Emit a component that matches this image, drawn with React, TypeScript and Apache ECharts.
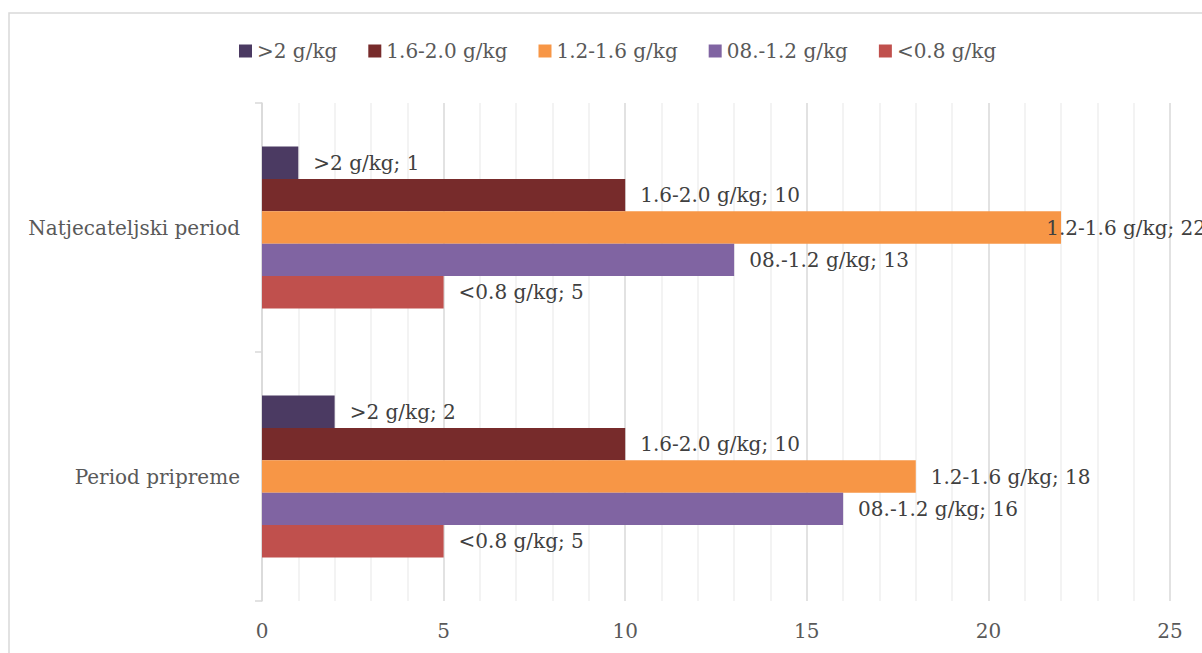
import React, { useEffect, useRef } from "react";
import * as echarts from "echarts";

const categories = ["Period pripreme", "Natjecateljski period"];
const seriesNames = [">2 g/kg", "1.6-2.0 g/kg", "1.2-1.6 g/kg", "08.-1.2 g/kg", "<0.8 g/kg"];
const valsGt2 = [2, 1];
const vals16to20 = [10, 10];
const vals12to16 = [18, 22];
const vals08to12 = [16, 13];
const valsLt08 = [5, 5];
const xTicks = [0, 5, 10, 15, 20, 25];
const colors = ["#4b3a62", "#772b2b", "#f79646", "#8064a2", "#c0504d"];

const allValues = [valsGt2, vals16to20, vals12to16, vals08to12, valsLt08];

export default function App() {
  const ref = useRef<HTMLDivElement>(null);
  useEffect(() => {
    if (!ref.current) return;
    const chart = echarts.init(ref.current, undefined, { renderer: "svg" });
    const font = "DejaVu Serif";
    const fs = 20;
    const series = seriesNames.map((name, i) => ({
      name,
      type: "bar",
      data: allValues[i],
      barGap: "0%",
      barCategoryGap: "35%",
      itemStyle: { color: colors[i] },
      label: {
        show: true,
        position: "right",
        distance: 15,
        formatter: "{a}; {c}",
        color: "#404040",
        fontFamily: font,
        fontSize: fs,
      },
      labelLayout: (p: any) => {
        const r = p.labelRect;
        if (r.x + r.width > 1206) {
          return { x: 1206 - r.width, y: r.y + r.height / 2, align: "left", verticalAlign: "middle" };
        }
        return {};
      },
    }));
    chart.setOption({
      animation: false,
      textStyle: { fontFamily: font },
      legend: {
        data: seriesNames,
        top: 36,
        left: 234,
        itemWidth: 13,
        itemHeight: 13,
        itemGap: 31,
        icon: "rect",
        textStyle: { fontFamily: font, fontSize: fs, color: "#595959" },
      },
      grid: { left: 262, right: 32, top: 103, bottom: 52, containLabel: false },
      xAxis: {
        type: "value",
        min: xTicks[0],
        max: xTicks[xTicks.length - 1],
        interval: 5,
        axisLine: { show: false },
        axisTick: { show: false },
        axisLabel: { color: "#595959", fontFamily: font, fontSize: fs, margin: 20 },
        splitLine: { show: true, lineStyle: { color: "#d9d9d9", width: 1.5 } },
        minorTick: { show: false, splitNumber: 5 },
        minorSplitLine: { show: true, lineStyle: { color: "#efefef", width: 1.5 } },
      },
      yAxis: {
        type: "category",
        data: categories,
        axisLine: { show: true, lineStyle: { color: "#d9d9d9", width: 1.5 } },
        axisTick: { show: true, length: 7, lineStyle: { color: "#d9d9d9", width: 1.5 } },
        axisLabel: { color: "#595959", fontFamily: font, fontSize: fs, margin: 22 },
      },
      graphic: [
        {
          type: "rect",
          shape: { x: 9, y: 13, width: 1300, height: 700 },
          style: { fill: "none", stroke: "#d9d9d9", lineWidth: 1.5 },
          silent: true,
          z: -10,
        },
      ],
      series,
    });
    return () => chart.dispose();
  }, []);
  return (
    <div
      ref={ref}
      style={{ position: "fixed", left: 0, top: 0, width: 1202, height: 653, background: "#fff" }}
    />
  );
}
